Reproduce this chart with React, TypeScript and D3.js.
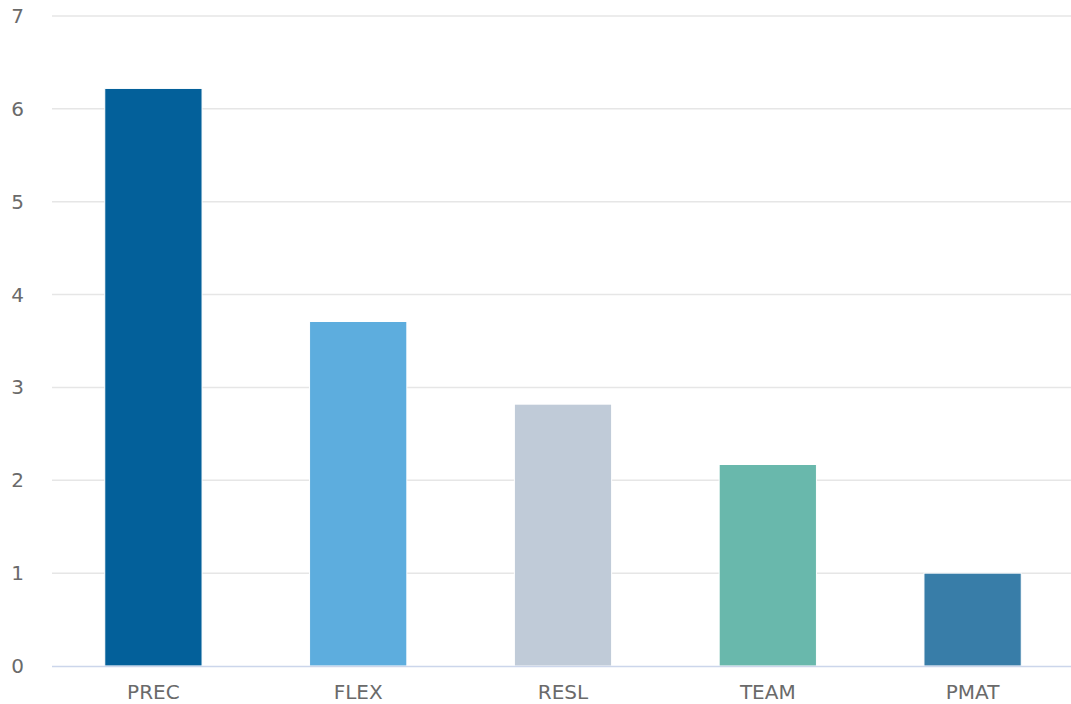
import React from "react";
import * as d3 from "d3";

const categories = ["PREC", "FLEX", "RESL", "TEAM", "PMAT"];
const values = [6.22, 3.71, 2.82, 2.17, 1.0];
const colors = ["#03609A", "#5DADDE", "#C0CBD8", "#69B8AC", "#387DA8"];
const yTicks = [0, 1, 2, 3, 4, 5, 6, 7];

const W = 1071;
const H = 704;
const margin = { left: 51, right: -4, top: 16, bottom: 38 };

export default function App() {
  const x = d3
    .scaleBand<string>()
    .domain(categories)
    .range([margin.left, W - margin.right])
    .paddingInner(0.525)
    .paddingOuter(0.2625);
  const y = d3.scaleLinear().domain([0, 7]).range([H - margin.bottom, margin.top]);
  const font = "'DejaVu Sans', sans-serif";

  return (
    <svg
      width={W}
      height={H}
      style={{ position: "absolute", left: 0, top: 0, background: "#fff" }}
    >
      {yTicks.map((t) => (
        <g key={t}>
          {t !== 0 && (
            <line
              x1={52}
              x2={W}
              y1={y(t)}
              y2={y(t)}
              stroke="#e6e6e6"
              strokeWidth={1.5}
            />
          )}
          <text
            x={24}
            y={y(t)}
            dy="0.35em"
            textAnchor="end"
            fontFamily={font}
            fontSize={20}
            fill="#6a6a6a"
          >
            {t}
          </text>
        </g>
      ))}
      {categories.map((c, i) => (
        <rect
          key={c}
          x={x(c)}
          y={y(values[i])}
          width={x.bandwidth()}
          height={y(0) - y(values[i])}
          fill={colors[i]}
          stroke="#ffffff"
          strokeWidth={1}
        />
      ))}
      <line
        x1={52}
        x2={W}
        y1={y(0) + 0.5}
        y2={y(0) + 0.5}
        stroke="#ccd6eb"
        strokeWidth={1.5}
      />
      {categories.map((c) => (
        <text
          key={c}
          x={(x(c) as number) + x.bandwidth() / 2}
          y={692}
          dy="0.35em"
          textAnchor="middle"
          fontFamily={font}
          fontSize={20}
          fill="#6a6a6a"
        >
          {c}
        </text>
      ))}
    </svg>
  );
}
